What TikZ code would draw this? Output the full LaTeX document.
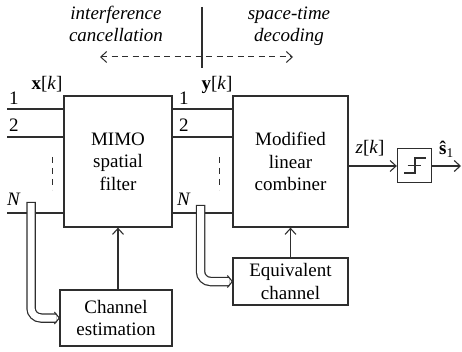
\documentclass[tikz,border=0pt]{standalone}
\usepackage{fontspec}
\setmainfont{Liberation Serif}
\usetikzlibrary{arrows.meta,calc}
\definecolor{ink}{gray}{0.18}

\begin{document}
\begin{tikzpicture}[x=1pt,y=-1pt,
  font=\fontsize{19}{22.5}\selectfont,
  blk/.style={draw=ink, fill=white, line width=1.3pt, align=center, inner sep=0pt},
  wire/.style={draw=ink, line width=1.3pt},
  tipv/.style={-{Straight Barb[length=6pt,width=11pt,line width=1.1pt]}},
  pipeout/.style={draw=ink, line width=9.5pt, rounded corners=10pt},
  pipein/.style={draw=white, line width=7pt, rounded corners=10pt},
  lab/.style={anchor=base, inner sep=0pt},
  num/.style={anchor=base west, inner sep=0pt},
  dots/.style={draw=ink, line width=1pt, dash pattern=on 6pt off 5pt},
]
\useasboundingbox (0,0) rectangle (462,352);

% processing blocks
\node[blk, minimum width=108pt, minimum height=131pt] (mimo) at (118,161.5) {MIMO\\spatial\\filter};
\node[blk, minimum width=115pt, minimum height=131pt] (mlc) at (290.5,161.5) {Modified\\linear\\combiner};
\node[blk, minimum width=112pt, minimum height=56pt] (ce) at (116,318) {Channel\\estimation};
\node[blk, minimum width=115pt, minimum height=47pt] (eq) at (290.5,281.5) {Equivalent\\channel};
\node[blk, minimum width=34pt, minimum height=34pt] (q) at (414.5,165.5) {};

% decision (step) symbol
\draw[ink, line width=1.2pt] ($(q)+(-10.5,7.5)$) -- ($(q)+(0.5,7.5)$) -- ($(q)+(0.5,-7.5)$) -- ($(q)+(11.5,-7.5)$);
\draw[ink, line width=1.2pt] ($(q)+(-7,0)$) -- ($(q)+(6.5,0)$);

% input branches 1, 2, N
\coordinate (in1) at (7,109);
\coordinate (in2) at (7,137);
\coordinate (inN) at (7,213);
\draw[wire] (in1) -- (mimo.west |- in1);
\draw[wire] (in2) -- (mimo.west |- in2);
\draw[wire] (inN) -- (mimo.west |- inN);
\draw[wire] (mimo.east |- in1) -- (mlc.west |- in1);
\draw[wire] (mimo.east |- in2) -- (mlc.west |- in2);
\draw[wire] (mimo.east |- inN) -- (mlc.west |- inN);

% vertical ellipsis
\coordinate (d1t) at (52,157);
\coordinate (d1b) at (52,190);
\coordinate (d2t) at (219,157);
\coordinate (d2b) at (219,190);
\draw[dots] (d1t) -- (d1b);
\draw[dots] (d2t) -- (d2b);

% branch labels
\node[num] (n1a) at (9,105) {1};
\node[num] (n2a) at (9,132) {2};
\node[num] (nNa) at (7,206) {\textit{N}};
\node[num] (n1b) at (179,105) {1};
\node[num] (n2b) at (179,132) {2};
\node[num] (nNb) at (177,206) {\textit{N}};
\node[lab] (xk) at (47,90) {\textbf{x}[\textit{k}]};
\node[lab] (yk) at (217,90) {\textbf{y}[\textit{k}]};

% control arrows
\draw[wire, tipv] (mimo.south |- ce.north) -- (mimo.south);
\draw[wire, tipv] (eq.north) -- (mlc.south);

% output path
\coordinate (out) at (461,166);
\draw[wire, tipv] (mlc.east |- out) -- (q.west |- out);
\draw[wire, tipv] (q.east |- out) -- (out);
\node[lab] (zk) at (370,154) {\textit{z}[\textit{k}]};
\node[num] (sh) at (439,155) {\textbf{ŝ}\textsubscript{1}};

% signal taps feeding the estimators
\coordinate (pl) at (31,202);
\coordinate (pr) at (200.5,205);
\draw[pipeout] (pl) |- ($(ce.west)+(-3,0)$);
\draw[pipein] ($(pl)+(0,1.25)$) |- ($(ce.west)+(-3,0)$);
\draw[wire, line width=1.1pt] ($(ce.west)+(-5,-6)$) -- (ce.west) -- ($(ce.west)+(-5,6)$);
\draw[pipeout] (pr) |- ($(eq.west)+(-3,0)$);
\draw[pipein] ($(pr)+(0,1.25)$) |- ($(eq.west)+(-3,0)$);
\draw[wire, line width=1.1pt] ($(eq.west)+(-5,-6)$) -- (eq.west) -- ($(eq.west)+(-5,6)$);

% stage annotation
\coordinate (vt) at (202,7);
\coordinate (vb) at (202,68);
\coordinate (dl) at (100,57);
\coordinate (dr) at (293,57);
\draw[wire] (vt) -- (vb);
\draw[draw=ink, line width=1pt, dash pattern=on 6pt off 4.5pt,
  {Straight Barb[length=6pt,width=11pt,line width=1pt]}-{Straight Barb[length=6pt,width=11pt,line width=1pt]}] (dl) -- (dr);
\node[lab] (t1) at (116,20) {\textit{interference}};
\node[lab] (t2) at (116,42) {\textit{cancellation}};
\node[lab] (t3) at (289,20) {\textit{space-time}};
\node[lab] (t4) at (289,42) {\textit{decoding}};
\end{tikzpicture}
\end{document}
